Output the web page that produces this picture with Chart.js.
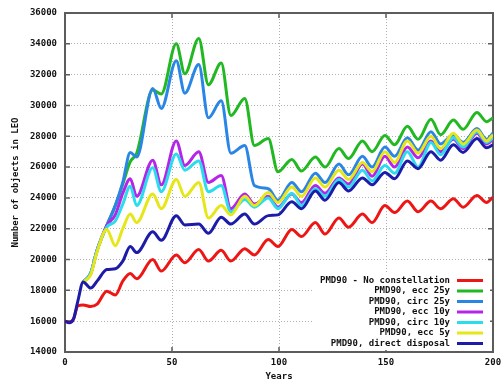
<!DOCTYPE html>
<html>
<head>
<meta charset="utf-8">
<script src="https://cdn.jsdelivr.net/npm/chart.js@4.4.1/dist/chart.umd.min.js"></script>
<style>
  html, body { margin: 0; padding: 0; background: #fff; }
  canvas { display: block; }
</style>
</head>
<body>
<canvas id="chart" width="501" height="383"></canvas>
<script>
// Simulation years (points picked at the peaks and troughs of the solar cycle)
const years = [0, 2, 4, 6, 8.5, 12, 15, 19.5, 23.5, 27, 30.5, 33.5, 41, 45, 52, 56, 62.5, 67, 73, 77.5,
  84, 88.5, 95, 99.5, 106, 110.5, 117, 121.5, 128, 132.5, 139, 143.5, 149.5, 154, 160, 165, 171, 175.5,
  181.5, 186, 192.5, 197, 200];

// Number of objects in LEO
const noConstellation = [16000, 15950, 16150, 17000, 17050, 16950, 17100, 17950, 17700, 18600, 19100, 18750, 20000, 19250, 20300, 19800, 20650, 19900, 20600, 19900,
  20700, 20300, 21300, 20850, 21950, 21500, 22400, 21650, 22700, 22100, 22950, 22400, 23500, 23050, 23800, 23100, 23800, 23300,
  23950, 23400, 24150, 23700, 24050];
const ecc25 = [null, null, null, null, 18550, 19100, 20600, 22200, 23500, 24900, 26350, 26900, 31000, 30750, 34000, 32050, 34350, 31350, 32750, 29350,
  30450, 27400, 27850, 25700, 26500, 25750, 26650, 26000, 27200, 26550, 27700, 27000, 28050, 27450, 28650, 27800, 29100, 28100,
  29050, 28450, 29550, 28950, 29200];
const circ25 = [null, null, null, null, 18550, 19100, 20600, 22200, 23500, 25000, 26950, 26650, 31100, 29800, 32900, 30800, 32650, 29200, 30300, 26900,
  27400, 24800, 24600, 23850, 25000, 24400, 25600, 25000, 26200, 25500, 26700, 26000, 27300, 26700, 27900, 27100, 28300, 27500,
  28100, 27600, 28500, 27800, 28200];
const ecc10 = [null, null, null, null, 18550, 19100, 20600, 22200, 22900, 24300, 25250, 24100, 26450, 24850, 27700, 26100, 27000, 25000, 25450, 23300,
  24250, 23600, 24100, 23400, 24250, 23700, 24800, 24300, 25300, 24900, 26200, 25400, 26700, 26000, 27300, 26600, 27700, 27000,
  27800, 27200, 28200, 27500, 27800];
const circ10 = [null, null, null, null, 18550, 19100, 20600, 22100, 22500, 23600, 24750, 23500, 25950, 24400, 26850, 25800, 26400, 24400, 24800, 23100,
  23900, 23400, 24000, 23300, 24300, 23500, 24600, 24100, 25200, 24700, 25800, 25100, 26100, 25600, 27000, 26000, 27600, 26800,
  27900, 27300, 28300, 27600, 27900];
const ecc5 = [null, null, null, null, 18550, 19000, 20500, 21950, 20900, 22000, 22950, 22400, 24250, 23300, 25200, 24100, 25000, 22700, 23500, 22900,
  24100, 23500, 24350, 23700, 24700, 24100, 25300, 24700, 25800, 25200, 26300, 25700, 27000, 26300, 27700, 26900, 28000, 27200,
  28200, 27500, 28400, 27700, 28100];
const directDisposal = [16000, 15900, 16150, 17300, 18550, 18150, 18600, 19350, 19400, 19900, 20850, 20450, 21800, 21250, 22850, 22250, 22300, 21700, 22750, 22300,
  22950, 22300, 22850, 22900, 23750, 23300, 24450, 23850, 25000, 24450, 25300, 24850, 25650, 25250, 26400, 25900, 27000, 26450,
  27450, 26950, 27850, 27250, 27450];

const seriesLabels = ['PMD90 - No constellation', 'PMD90, ecc 25y', 'PMD90, circ 25y', 'PMD90, ecc 10y',
  'PMD90, circ 10y', 'PMD90, ecc 5y', 'PMD90, direct disposal'];
const seriesValues = [noConstellation, ecc25, circ25, ecc10, circ10, ecc5, directDisposal];
const seriesColors = ['#ee1515', '#22b822', '#2a86e6', '#b525e8', '#2bdcec', '#e6e619', '#1c1ca8'];

const xTickValues = [0, 50, 100, 150, 200];
const yTickValues = [14000, 16000, 18000, 20000, 22000, 24000, 26000, 28000, 30000, 32000, 34000, 36000];

Chart.defaults.font.family = "'DejaVu Sans Mono', monospace";
Chart.defaults.font.size = 9;
Chart.defaults.font.weight = 'bold';
Chart.defaults.color = '#111';

const datasets = seriesValues.map((vals, i) => ({
  label: seriesLabels[i],
  data: years.map((yr, j) => ({x: yr, y: vals[j]})),
  borderColor: seriesColors[i],
  borderWidth: 3,
  pointRadius: 0,
  cubicInterpolationMode: 'monotone',
  fill: false,
  order: seriesValues.length - i
}));

// plot border and inward tick marks, gnuplot style
const frame = {
  id: 'frame',
  beforeDatasetsDraw(chart) {
    const {ctx, chartArea: a, scales} = chart;
    ctx.save();
    ctx.strokeStyle = '#5c5c5c';
    ctx.lineWidth = 1.5;
    scales.y.ticks.forEach((t, i) => {
      const py = scales.y.getPixelForTick(i);
      ctx.beginPath();
      ctx.moveTo(a.left, py); ctx.lineTo(a.left + 5, py);
      ctx.moveTo(a.right, py); ctx.lineTo(a.right - 5, py);
      ctx.stroke();
    });
    scales.x.ticks.forEach((t, i) => {
      const px = scales.x.getPixelForTick(i);
      ctx.beginPath();
      ctx.moveTo(px, a.bottom); ctx.lineTo(px, a.bottom - 5);
      ctx.moveTo(px, a.top); ctx.lineTo(px, a.top + 5);
      ctx.stroke();
    });
    ctx.lineWidth = 2;
    ctx.strokeRect(a.left, a.top, a.right - a.left, a.bottom - a.top);
    ctx.restore();
  }
};

// opaque key in the lower right corner
const key = {
  id: 'key',
  afterDatasetsDraw(chart) {
    const {ctx, chartArea: a} = chart;
    const lineEnd = a.right - 10;
    const lineStart = lineEnd - 26;
    const textRight = lineStart - 7;
    const rowH = 10.5;
    const firstRow = a.bottom - 8.5 - rowH * (seriesLabels.length - 1);
    ctx.save();
    ctx.font = "bold 9px 'DejaVu Sans Mono', monospace";
    let w = 0;
    seriesLabels.forEach(l => { w = Math.max(w, ctx.measureText(l).width); });
    ctx.fillStyle = '#fff';
    ctx.fillRect(textRight - w - 6, firstRow - 7, a.right - 3 - (textRight - w - 6), a.bottom - 2 - (firstRow - 7));
    ctx.textAlign = 'right';
    ctx.textBaseline = 'middle';
    seriesLabels.forEach((l, i) => {
      const y = firstRow + i * rowH;
      ctx.fillStyle = '#111';
      ctx.fillText(l, textRight, y);
      ctx.strokeStyle = seriesColors[i];
      ctx.lineWidth = 3;
      ctx.beginPath();
      ctx.moveTo(lineStart, y); ctx.lineTo(lineEnd, y);
      ctx.stroke();
    });
    ctx.restore();
  }
};

new Chart(document.getElementById('chart'), {
  type: 'line',
  data: { datasets },
  options: {
    responsive: false,
    animation: false,
    layout: { padding: { top: 13, right: 8, left: 0, bottom: 0 } },
    plugins: { legend: { display: false }, tooltip: { enabled: false } },
    scales: {
      x: {
        type: 'linear',
        min: 0, max: 200,
        afterBuildTicks: s => { s.ticks = xTickValues.map(v => ({value: v})); },
        afterFit: s => { s.height = 31; s.paddingLeft = 0; s.paddingRight = 0; },
        ticks: { padding: 5, maxRotation: 0, autoSkip: false },
        grid: { color: '#b0b0b0', lineWidth: 1, drawTicks: false },
        border: { display: false, dash: [1, 2] },
        title: { display: true, text: 'Years', padding: { top: 0, bottom: 1 } }
      },
      y: {
        type: 'linear',
        min: 14000, max: 36000,
        afterBuildTicks: s => { s.ticks = yTickValues.map(v => ({value: v})); },
        afterFit: s => { s.width = 65; s.paddingTop = 0; s.paddingBottom = 0; },
        ticks: { padding: 8, autoSkip: false, callback: v => String(v) },
        grid: { color: '#b0b0b0', lineWidth: 1, drawTicks: false },
        border: { display: false, dash: [1, 2] },
        title: { display: true, text: 'Number of objects in LEO', padding: { top: 10, bottom: 0 } }
      }
    }
  },
  plugins: [frame, key]
});
</script>
</body>
</html>
